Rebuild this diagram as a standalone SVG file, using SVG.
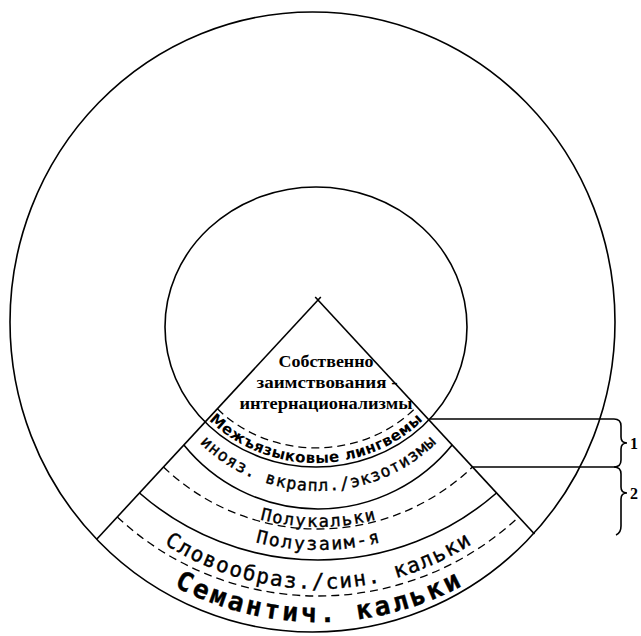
<svg xmlns="http://www.w3.org/2000/svg" xmlns:xlink="http://www.w3.org/1999/xlink" width="641" height="636" viewBox="0 0 641 636">
  <style>
    .ln { fill: none; stroke: #000; stroke-width: 1.6; }
    .dash { fill: none; stroke: #000; stroke-width: 1.3; stroke-dasharray: 8 5; }
    .serif { font-family: "Liberation Serif", "Times New Roman", serif; font-weight: bold; font-size: 16px; fill: #000; }
    .mono { font-family: "DejaVu Sans Mono", "Liberation Mono", monospace; fill: #000; stroke: #000; stroke-width: 0.4; }
    .bold { font-family: "DejaVu Sans", "Liberation Sans", sans-serif; font-weight: bold; font-size: 15px; fill: #000; }
  </style>
  <defs>
    <path id="p-mezh" d="M 188.7,395 A 147 136 0 0 0 443.3,395"/>
    <path id="p-inoyaz" d="M 178.7,418.5 A 170 170 0 0 0 457.3,418.5"/>
    <path id="p-polukal" d="M 220.8,505.4 A 230 230 0 0 0 415.2,505.4"/>
    <path id="p-poluzaim" d="M 212.3,526.6 A 250 250 0 0 0 423.7,526.6"/>
    <path id="p-slovo" d="M 116.5,505.5 A 285 285 0 0 0 519.5,505.5"/>
    <path id="p-seman" d="M 102.3,532.7 A 305 305 0 0 0 533.7,532.7"/>
  </defs>
  <rect width="641" height="636" fill="#fff"/>

  <g id="outer-circle">
    <ellipse class="ln" cx="312.5" cy="322" rx="302.5" ry="310"/>
  </g>
  <g id="inner-circle">
    <ellipse class="ln" cx="316" cy="327" rx="151" ry="140"/>
  </g>
  <g id="wedge">
    <line class="ln" x1="320.8" y1="297" x2="96.7" y2="539.2"/>
    <line class="ln" x1="315.2" y1="297" x2="534.5" y2="534"/>
  </g>
  <g id="band-lines">
    <path class="dash" d="M 217.4,408.8 A 134 121 0 0 0 416.7,406.7"/>
    <path class="ln" d="M 183.9,445 A 172.5 172.5 0 0 0 452.1,445"/>
    <path class="dash" d="M 163.5,467 A 223.5 223.5 0 0 0 472.5,467"/>
    <path class="ln" d="M 139.5,493 A 271.3 271.3 0 0 0 496.5,493"/>
    <path class="dash" d="M 117.3,517 A 294.4 294.4 0 0 0 518.7,517"/>
  </g>

  <g id="node-core">
    <text class="serif" x="326" y="367" text-anchor="middle" textLength="95" lengthAdjust="spacingAndGlyphs">Собственно</text>
    <text class="serif" x="327" y="388" text-anchor="middle" textLength="141" lengthAdjust="spacingAndGlyphs">заимствования -</text>
    <text class="serif" x="326" y="409" text-anchor="middle" textLength="173" lengthAdjust="spacingAndGlyphs">интернационализмы</text>
  </g>
  <g id="node-mezh">
    <text class="bold"><textPath xlink:href="#p-mezh" href="#p-mezh" startOffset="50%" text-anchor="middle" textLength="236" lengthAdjust="spacing">Межъязыковые лингвемы</textPath></text>
  </g>
  <g id="node-inoyaz">
    <text class="mono" font-size="16.5"><textPath xlink:href="#p-inoyaz" href="#p-inoyaz" startOffset="50%" text-anchor="middle" textLength="262" lengthAdjust="spacing">инояз. вкрапл./экзотизмы</textPath></text>
  </g>
  <g id="node-polukal">
    <text class="mono" font-size="17"><textPath xlink:href="#p-polukal" href="#p-polukal" startOffset="50%" text-anchor="middle" textLength="117" lengthAdjust="spacing">Полукальки</textPath></text>
  </g>
  <g id="node-poluzaim">
    <text class="mono" font-size="18"><textPath xlink:href="#p-poluzaim" href="#p-poluzaim" startOffset="50%" text-anchor="middle" textLength="126" lengthAdjust="spacing">Полузаим-я</textPath></text>
  </g>
  <g id="node-slovo">
    <text class="mono" font-size="21"><textPath xlink:href="#p-slovo" href="#p-slovo" startOffset="50%" text-anchor="middle" textLength="325" lengthAdjust="spacing">Словообраз./син. кальки</textPath></text>
  </g>
  <g id="node-seman">
    <text class="mono" font-size="26" font-weight="bold"><textPath xlink:href="#p-seman" href="#p-seman" startOffset="50%" text-anchor="middle" textLength="300" lengthAdjust="spacing">Семантич. кальки</textPath></text>
  </g>

  <g id="connectors">
    <path class="ln" d="M 430,419 L 614,419 Q 621,419 621,426 L 621,437 Q 621,443 627,443 Q 621,443 621,449 L 621,460 Q 621,467 614,467 L 473,467"/>
    <path class="ln" d="M 614,467 Q 621,467 621,474 L 621,487 Q 621,493 627,493 Q 621,493 621,499 L 621,526 Q 621,533 616,535"/>
  </g>
  <g id="labels">
    <text class="serif" x="630" y="449">1</text>
    <text class="serif" x="630" y="499">2</text>
  </g>
</svg>
